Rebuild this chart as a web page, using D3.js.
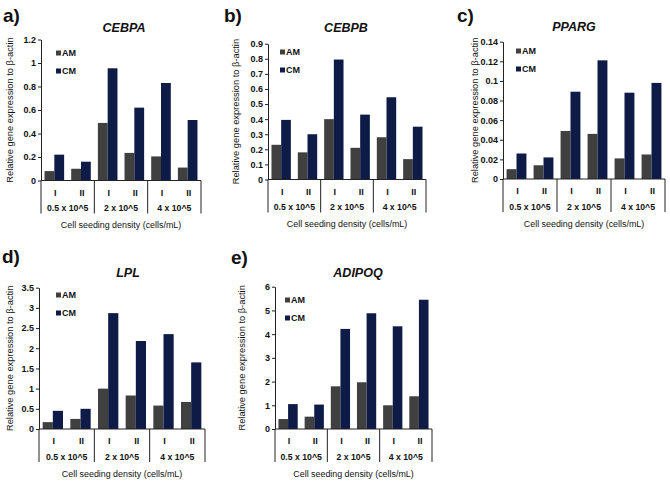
<!DOCTYPE html>
<html><head><meta charset="utf-8">
<script src="https://cdn.jsdelivr.net/npm/d3@7"></script>
<style>body{margin:0;background:#fff}svg{display:block}</style>
</head><body>
<script>
// ---- data ----
const subCategories = ["I", "II"];
const densities = ["0.5 x 10^5", "2 x 10^5", "4 x 10^5"];
const seriesNames = ["AM", "CM"];
const panelLetters = ["a)", "b)", "c)", "d)", "e)"];
const genes = ["CEBPA", "CEBPB", "PPARG", "LPL", "ADIPOQ"];
const yMaxima = [1.2, 0.9, 0.14, 3.5, 6];
const yTickSteps = [0.2, 0.1, 0.02, 0.5, 1];
const amCEBPA = [0.08, 0.10, 0.49, 0.235, 0.205, 0.11];
const cmCEBPA = [0.22, 0.16, 0.955, 0.62, 0.83, 0.515];
const amCEBPB = [0.23, 0.18, 0.40, 0.21, 0.28, 0.135];
const cmCEBPB = [0.395, 0.30, 0.795, 0.43, 0.545, 0.35];
const amPPARG = [0.010, 0.014, 0.049, 0.046, 0.021, 0.025];
const cmPPARG = [0.026, 0.022, 0.089, 0.121, 0.088, 0.098];
const amLPL = [0.17, 0.25, 1.0, 0.83, 0.58, 0.67];
const cmLPL = [0.45, 0.50, 2.87, 2.18, 2.35, 1.65];
const amADIPOQ = [0.42, 0.52, 1.80, 1.97, 1.00, 1.38];
const cmADIPOQ = [1.05, 1.03, 4.22, 4.88, 4.33, 5.45];
const amValues = [amCEBPA, amCEBPB, amPPARG, amLPL, amADIPOQ];
const cmValues = [cmCEBPA, cmCEBPB, cmPPARG, cmLPL, cmADIPOQ];
const yLabel = "Relative gene expression to β-actin";
const xLabel = "Cell seeding density (cells/mL)";

// ---- layout ----
const layout = [
  {x0: 41, x1: 201, yT: 39.5, y0: 180.5, lx: 3, ly: 15, ylx: 10, tx: 124, ty: 28, legX: 56, legY: 53},
  {x0: 268, x1: 426, yT: 43.7, y0: 179.5, lx: 224, ly: 15, ylx: 236, tx: 346, ty: 28, legX: 280, legY: 52},
  {x0: 503, x1: 665, yT: 41.7, y0: 179, lx: 457, ly: 15, ylx: 475, tx: 574, ty: 27, legX: 516, legY: 51},
  {x0: 39, x1: 205, yT: 287.7, y0: 429, lx: 2, ly: 256, ylx: 10, tx: 128, ty: 273, legX: 56, legY: 295},
  {x0: 275, x1: 432, yT: 286.7, y0: 429, lx: 231, ly: 257, ylx: 242, tx: 358, ty: 273, legX: 285, legY: 300}
];
const colors = {AM: "#404040", CM: "#0f1b47"};
const FONT = "'Liberation Sans', Arial, sans-serif";
const TICK = 9;

const svg = d3.select("body").append("svg").attr("width", 670).attr("height", 483)
  .style("font-family", FONT);

const slots = [];
densities.forEach(d => subCategories.forEach(s => slots.push(d + "|" + s)));

genes.forEach((gene, i) => {
  const L = layout[i];
  const g = svg.append("g");
  const x = d3.scaleBand().domain(slots).range([L.x0, L.x1]);
  const xi = d3.scaleBand().domain(seriesNames).range([0, x.bandwidth()]).paddingInner(0).paddingOuter(0.36);
  const y = d3.scaleLinear().domain([0, yMaxima[i]]).range([L.y0, L.yT]);
  const ticks = d3.range(0, yMaxima[i] + yTickSteps[i] / 2, yTickSteps[i]);

  // bars
  const rows = slots.map((s, k) => ({slot: s, AM: amValues[i][k], CM: cmValues[i][k]}));
  seriesNames.forEach(sn => {
    g.selectAll(null).data(rows).enter().append("rect")
      .attr("x", d => x(d.slot) + xi(sn))
      .attr("width", xi.bandwidth())
      .attr("y", d => y(d[sn]))
      .attr("height", d => y(0) - y(d[sn]))
      .attr("fill", colors[sn]);
  });

  // y axis
  const yAxis = d3.axisLeft(y).tickValues(ticks).tickSize(3).tickSizeOuter(0)
    .tickFormat(v => +v.toFixed(3) + "");
  const ya = g.append("g").attr("transform", `translate(${L.x0},0)`).call(yAxis);
  ya.select(".domain").attr("stroke", "#222");
  ya.selectAll(".tick line").attr("stroke", "#222");
  ya.selectAll("text").attr("font-family", FONT).attr("font-size", TICK).attr("font-weight", "bold").attr("fill", "#111").attr("x", -5);

  // x baseline
  g.append("line").attr("x1", L.x0).attr("x2", L.x1).attr("y1", L.y0).attr("y2", L.y0).attr("stroke", "#222");
  // category box verticals
  const vx = [L.x0].concat(densities.map(d => x(d + "|II") + x.bandwidth()));
  g.selectAll(null).data(vx).enter().append("line")
    .attr("x1", d => d).attr("x2", d => d).attr("y1", L.y0).attr("y2", L.y0 + 33)
    .attr("stroke", "#222");
  // sub labels
  g.selectAll(null).data(slots).enter().append("text")
    .attr("x", d => x(d) + x.bandwidth() / 2 + 1).attr("y", L.y0 + 12).attr("dy", "0.35em")
    .attr("text-anchor", "middle").attr("font-size", TICK).attr("font-weight", "bold").attr("fill", "#111")
    .text(d => d.split("|")[1]);
  g.selectAll(null).data(densities).enter().append("text")
    .attr("x", d => (x(d + "|I") + x(d + "|II") + x.bandwidth()) / 2).attr("y", L.y0 + 27.5).attr("dy", "0.35em")
    .attr("text-anchor", "middle").attr("font-size", 8.7).attr("font-weight", "bold").attr("fill", "#111")
    .text(d => d);
  // x title
  g.append("text").attr("x", (L.x0 + L.x1) / 2).attr("y", L.y0 + 44.5).attr("dy", "0.35em")
    .attr("text-anchor", "middle").attr("font-size", 8.9).attr("fill", "#111").text(xLabel);
  // y title
  g.append("text").attr("transform", `translate(${L.ylx},${(L.y0 + L.yT) / 2}) rotate(-90)`)
    .attr("dy", "0.35em").attr("text-anchor", "middle").attr("font-size", 9.3).attr("fill", "#111").text(yLabel);
  // gene title
  g.append("text").attr("x", L.tx).attr("y", L.ty).attr("dy", "0.35em").attr("text-anchor", "middle")
    .attr("font-size", 12.5).attr("font-weight", "bold").attr("font-style", "italic").attr("fill", "#111").text(gene);
  // panel letter
  g.append("text").attr("x", L.lx).attr("y", L.ly).attr("dy", "0.35em")
    .attr("font-size", 19).attr("font-weight", "bold").attr("fill", "#111").text(panelLetters[i]);
  // legend
  seriesNames.forEach((sn, k) => {
    const ly = L.legY + k * 18;
    g.append("rect").attr("x", L.legX).attr("y", ly - 2.5).attr("width", 5).attr("height", 5).attr("fill", colors[sn]);
    g.append("text").attr("x", L.legX + 6).attr("y", ly).attr("dy", "0.35em")
      .attr("font-size", TICK).attr("font-weight", "bold").attr("fill", "#111").text(sn);
  });
});
</script>
</body></html>
